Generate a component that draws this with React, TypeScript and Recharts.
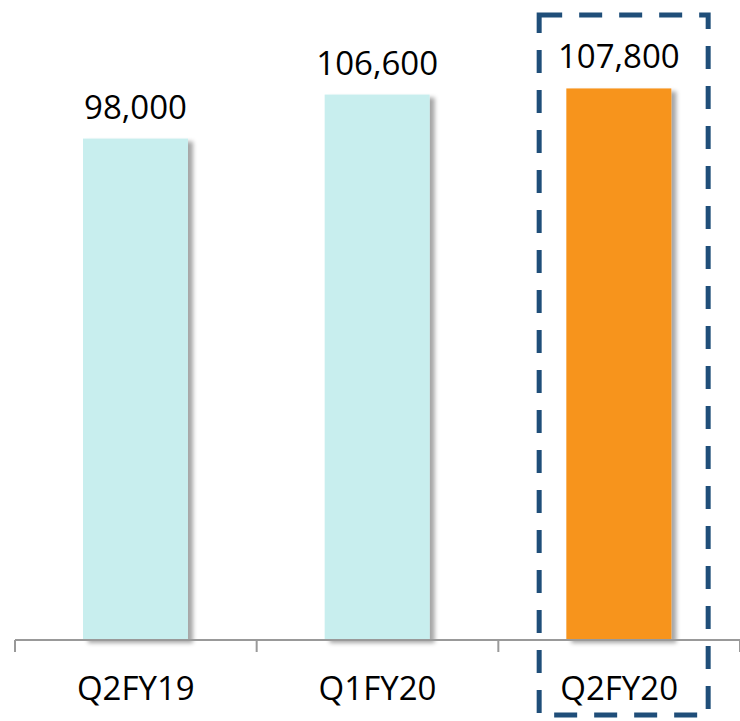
import React from 'react';
import { Bar, BarChart, Cell, LabelList, XAxis, YAxis } from 'recharts';

// quarterly figures
const quarters = ['Q2FY19', 'Q1FY20', 'Q2FY20'];
const values = [98000, 106600, 107800];
const highlight = 'Q2FY20';

const BAR_COLOR = '#C8EEEE';
const HIGHLIGHT_COLOR = '#F7941E';
const FONT = '"Open Sans", "Liberation Sans", sans-serif';

const data = quarters.map((q, i) => ({ quarter: q, value: values[i] }));

/**
 * Category tick: label plus boundary tick marks (Excel style),
 * and the dashed callout box around the highlighted quarter.
 * With tickSize/tickMargin at 0, y is the axis line itself.
 */
const QuarterTick = (props: any) => {
  const { x, y, payload, index, visibleTicksCount } = props;
  const half = payload?.offset ?? 120.8;
  const last = index === (visibleTicksCount ?? quarters.length) - 1;
  return (
    <g>
      <line x1={x - half} y1={y} x2={x - half} y2={y + 12} stroke="#999" strokeWidth={2} />
      {last && (
        <line x1={x + half} y1={y} x2={x + half} y2={y + 12} stroke="#999" strokeWidth={2} />
      )}
      <text
        x={x}
        y={y + 60}
        textAnchor="middle"
        fontSize={33}
        fontFamily={FONT}
        fill="#000"
      >
        {payload.value}
      </text>
      {payload.value === highlight && (
        <rect
          x={x - 80}
          y={y - 625}
          width={169}
          height={700}
          fill="none"
          stroke="#1F4E79"
          strokeWidth={5}
          strokeDasharray="23 17"
        />
      )}
    </g>
  );
};

const ShadowBar = (props: any) => {
  const { x, y, width, height, fill } = props;
  return <rect x={x} y={y} width={width} height={height} fill={fill} filter="url(#barShadow)" />;
};

export default function App() {
  return (
    <div style={{ position: 'absolute', left: 0, top: 0, background: '#fff' }}>
      <BarChart
        width={740}
        height={721}
        data={data}
        margin={{ top: 26, right: 0, bottom: 0, left: 15 }}
      >
        <defs>
          <filter id="barShadow" x="-10%" y="-10%" width="130%" height="120%">
            <feDropShadow dx={5} dy={3} stdDeviation={2} floodColor="#000" floodOpacity={0.35} />
          </filter>
        </defs>
        <XAxis
          dataKey="quarter"
          axisLine={{ stroke: '#999', strokeWidth: 2 }}
          tickLine={false}
          tickSize={0}
          tickMargin={0}
          tick={<QuarterTick />}
          interval={0}
          height={81}
        />
        <YAxis hide domain={[0, 120000]} />
        <Bar dataKey="value" barSize={105} isAnimationActive={false} shape={<ShadowBar />}>
          {data.map(d => (
            <Cell key={d.quarter} fill={d.quarter === highlight ? HIGHLIGHT_COLOR : BAR_COLOR} />
          ))}
          <LabelList
            dataKey="value"
            position="top"
            offset={20}
            formatter={(v: any) => Number(v).toLocaleString('en-US')}
            fill="#000"
            fontSize={33}
            fontFamily={FONT}
          />
        </Bar>
      </BarChart>
    </div>
  );
}
